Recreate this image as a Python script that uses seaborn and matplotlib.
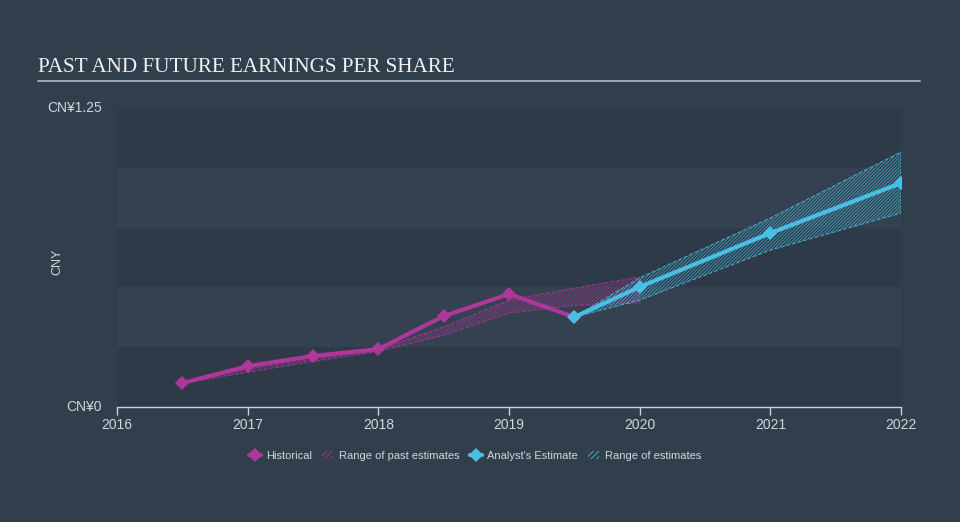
import matplotlib
matplotlib.use("Agg")
import matplotlib.pyplot as plt
import seaborn as sns
import pandas as pd
import numpy as np
from matplotlib.lines import Line2D
from matplotlib.patches import Patch

# ---- data ----
hist_years = [2016.5, 2017.0, 2017.5, 2018.0, 2018.5, 2019.0, 2019.5]
hist_eps = [0.10, 0.171, 0.213, 0.242, 0.38, 0.472, 0.376]

past_range_years = [2016.5, 2017.0, 2017.5, 2018.0, 2018.5, 2019.0, 2019.5, 2020.0]
past_range_low = [0.10, 0.145, 0.19, 0.232, 0.30, 0.393, 0.425, 0.435]
past_range_high = [0.10, 0.16, 0.20, 0.24, 0.335, 0.447, 0.497, 0.543]

est_years = [2019.5, 2020.0, 2021.0, 2022.0]
est_eps = [0.376, 0.502, 0.727, 0.936]
est_low = [0.376, 0.447, 0.656, 0.811]
est_high = [0.376, 0.54, 0.79, 1.066]

x_ticks = [2016, 2017, 2018, 2019, 2020, 2021, 2022]
y_ticks = [0, 1.25]
y_tick_labels = ["CN¥0", "CN¥1.25"]

title = "PAST AND FUTURE EARNINGS PER SHARE"

# ---- style ----
BG = "#313e4c"
BAND_DARK = "#2e3a48"
BAND_LIGHT = "#344150"
MAG = "#b0379a"
CYAN = "#4bbfe3"
TXT = "#d0d6dc"

sns.set_theme(style="dark")
plt.rcParams["font.family"] = ["Liberation Sans", "DejaVu Sans"]
plt.rcParams["hatch.linewidth"] = 0.6

fig = plt.figure(figsize=(9.6, 5.22), dpi=100, facecolor=BG)
ax = fig.add_axes([117 / 960, 1 - 407 / 522, 784 / 960, 299 / 522])
ax.set_facecolor(BG)

# background bands
for i in range(5):
    ax.axhspan(i * 0.25, (i + 1) * 0.25, color=BAND_DARK if i % 2 == 0 else BAND_LIGHT, lw=0, zorder=0)

# ranges
ax.fill_between(past_range_years, past_range_low, past_range_high, facecolor="none",
                edgecolor=MAG, hatch="//////////", linewidth=0.8, linestyle="--", zorder=2, alpha=0.75)
ax.fill_between(est_years, est_low, est_high, facecolor="none",
                edgecolor=CYAN, hatch="//////////", linewidth=0.8, linestyle="--", zorder=2, alpha=0.75)

hist_df = pd.DataFrame({"year": hist_years, "eps": hist_eps})
est_df = pd.DataFrame({"year": est_years, "eps": est_eps})
sns.lineplot(data=hist_df, x="year", y="eps", ax=ax, color=MAG, linewidth=3, marker="D",
             markersize=7, markeredgewidth=0, zorder=4)
sns.lineplot(data=est_df, x="year", y="eps", ax=ax, color=CYAN, linewidth=3, marker="D",
             markersize=7, markeredgewidth=0, zorder=5)

ax.set_xlim(2016, 2022)
ax.set_ylim(0, 1.25)
ax.set_xlabel("")
ax.set_ylabel("")
for s in ["top", "right", "left"]:
    ax.spines[s].set_visible(False)
ax.spines["bottom"].set_color("#c9d0d8")
ax.spines["bottom"].set_linewidth(1)
ax.set_xticks(x_ticks)
ax.set_xticklabels([str(t) for t in x_ticks], color=TXT, fontsize=10)
ax.tick_params(axis="x", length=6, width=1, color="#c9d0d8", pad=2, direction="out", bottom=True)
ax.set_yticks(y_ticks)
ax.set_yticklabels([])
ax.tick_params(axis="y", length=0)
ax.grid(False)

ax.text(-0.019, 0, y_tick_labels[0], transform=ax.transAxes, ha="right", va="center", color=TXT, fontsize=10)
ax.text(-0.019, 1, y_tick_labels[1], transform=ax.transAxes, ha="right", va="center", color=TXT, fontsize=10)
fig.text(57 / 960, 1 - 262 / 522, "CNY", rotation=90, ha="center", va="center", color=TXT, fontsize=9)

# title
fig.text(38 / 960, 1 - 67 / 522, title, family=["Liberation Serif", "DejaVu Serif"], fontsize=15.2,
         color="#f0f2f4", ha="left", va="center")
fig.add_artist(Line2D([38 / 960, 920 / 960], [1 - 81 / 522, 1 - 81 / 522], color="#aab2bb", lw=1.3,
                      transform=fig.transFigure))

# legend
handles = [
    Line2D([0], [0], color=MAG, lw=3, marker="D", markersize=7, markeredgewidth=0),
    Patch(facecolor="none", edgecolor=MAG, hatch="//////", linewidth=0),
    Line2D([0], [0], color=CYAN, lw=3, marker="D", markersize=7, markeredgewidth=0),
    Patch(facecolor="none", edgecolor=CYAN, hatch="//////", linewidth=0),
]
labels = ["Historical", "Range of past estimates", "Analyst's Estimate", "Range of estimates"]
leg = fig.legend(handles, labels, loc="center", bbox_to_anchor=(475 / 960, 1 - 456 / 522), ncol=4,
                 frameon=False, fontsize=8, labelcolor=TXT, handlelength=1.1, handletextpad=0.45,
                 columnspacing=0.9, handleheight=0.8)
leg.legend_handles[1].set_width(8)
leg.legend_handles[3].set_width(8)

fig.savefig("out.png", dpi=100, facecolor=BG)
